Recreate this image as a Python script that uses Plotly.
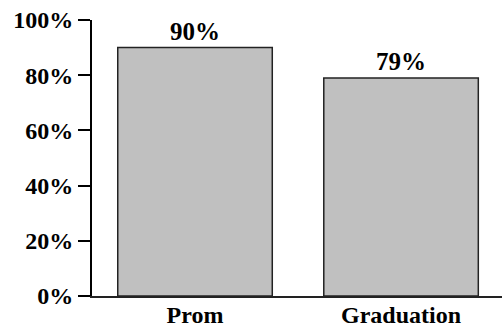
import plotly.graph_objects as go

categories = ["Prom", "Graduation"]
values = [90, 79]
y_ticks = [0, 20, 40, 60, 80, 100]

font_family = "Liberation Serif"

fig = go.Figure(
    go.Bar(
        x=categories,
        y=values,
        text=[f"{v}%" for v in values],
        textposition="outside",
        textfont=dict(family=font_family, size=25, color="black", weight="bold"),
        marker=dict(color="#c0c0c0", line=dict(color="#222222", width=1.5)),
        cliponaxis=False,
        width=0.75,
    )
)

fig.update_layout(
    width=502,
    height=330,
    margin=dict(l=92, r=0, t=20, b=34),
    paper_bgcolor="white",
    plot_bgcolor="white",
    showlegend=False,
    font=dict(family=font_family, size=24, color="black", weight="bold"),
    bargap=0.25,
)

fig.update_yaxes(
    range=[0, 100],
    tickvals=y_ticks,
    ticktext=[f"{t}%" for t in y_ticks],
    ticks="outside",
    ticklen=12,
    tickwidth=1.5,
    tickcolor="black",
    showline=True,
    linewidth=2,
    linecolor="black",
    showgrid=False,
    zeroline=False,
    automargin=False,
    tickfont=dict(family=font_family, size=24, color="black", weight="bold"),
)

fig.update_xaxes(
    range=[-0.5, 1.49],
    showline=True,
    linewidth=2,
    linecolor="#222222",
    ticks="",
    showgrid=False,
    zeroline=False,
    automargin=False,
    ticklabelstandoff=-4,
    tickfont=dict(family=font_family, size=24, color="black", weight="bold"),
)

fig.write_html("out.html")
